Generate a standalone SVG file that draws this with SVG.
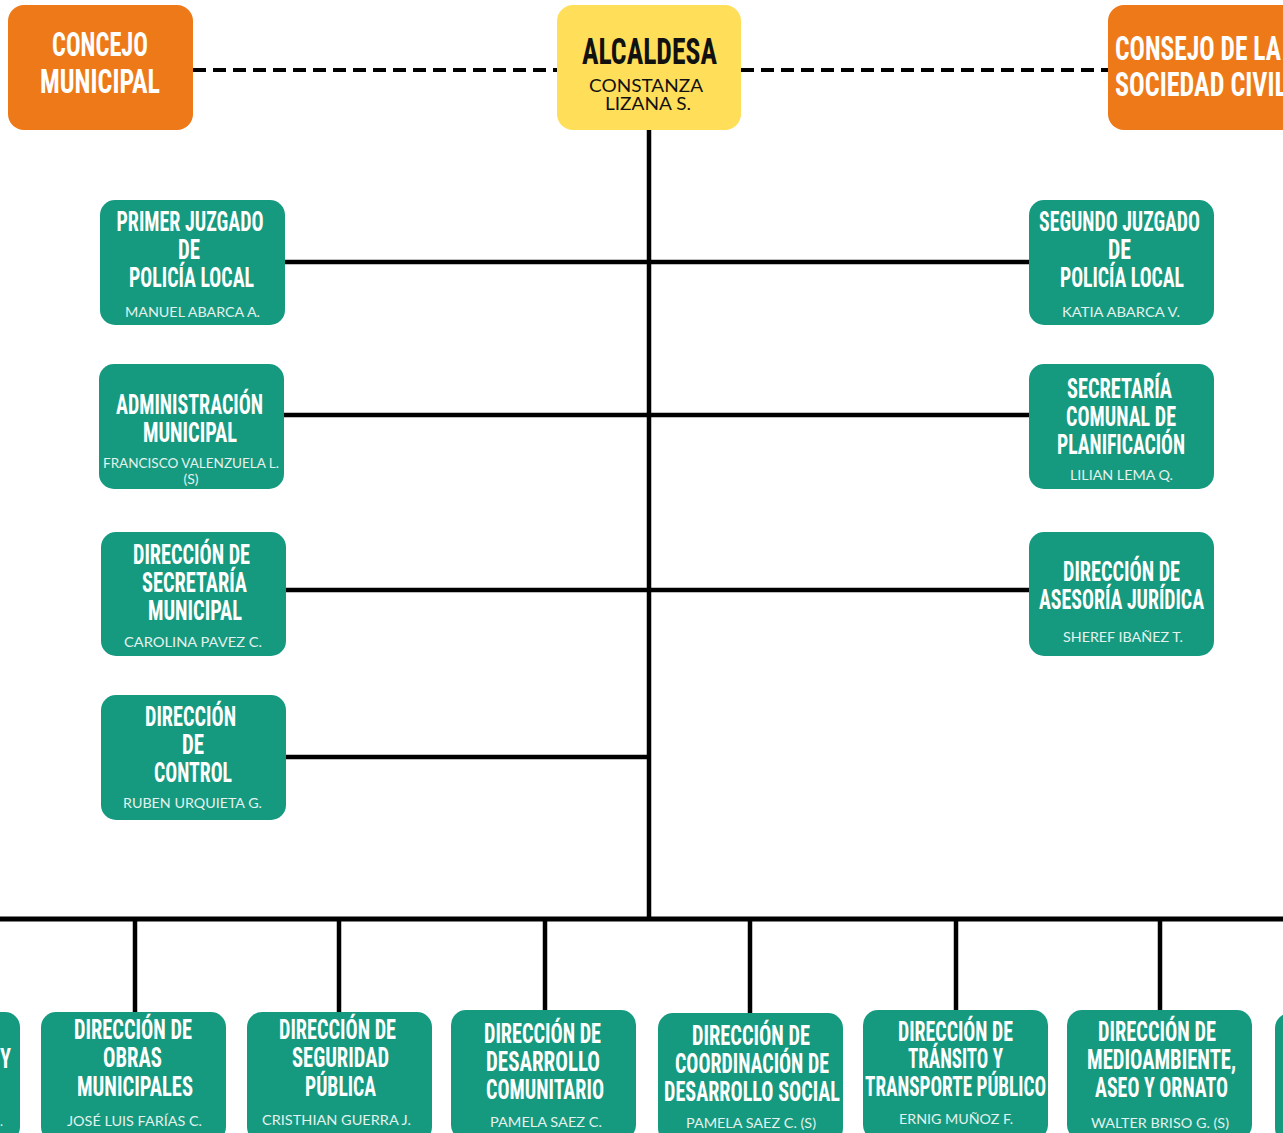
<svg xmlns="http://www.w3.org/2000/svg" width="1283" height="1133" viewBox="0 0 1283 1133">
<style>
.bg{fill:#ffffff}
.box{fill:#159a80}
.org{fill:#ee7918}
.yel{fill:#ffde59}
.t{font-family:"Liberation Sans Narrow","Roboto Condensed","Roboto","Liberation Sans",sans-serif;font-weight:700;font-size:28px;fill:#ffffff;text-anchor:middle}
.th{font-size:34px}
.tk{font-size:36px;fill:#111111}
.n{font-family:Lato,"Open Sans","Liberation Sans",sans-serif;font-size:12.5px;fill:#e4f1ed;text-anchor:middle}
.nk{font-size:17px;fill:#111111}
.ln{stroke:#000000;stroke-width:4.5;fill:none}
.dash{stroke:#000000;stroke-width:4;stroke-dasharray:13 7;fill:none}
</style>
<rect class="bg" x="0" y="0" width="1283" height="1133"/>

<g id="connectors">
  <line class="dash" x1="193" y1="70" x2="557" y2="70"/>
  <line class="dash" x1="741" y1="70" x2="1108" y2="70"/>
  <line class="ln" x1="649" y1="130" x2="649" y2="919"/>
  <line class="ln" x1="285" y1="262" x2="1029" y2="262"/>
  <line class="ln" x1="284" y1="415" x2="1029" y2="415"/>
  <line class="ln" x1="286" y1="590" x2="1029" y2="590"/>
  <line class="ln" x1="286" y1="757" x2="649" y2="757"/>
  <line class="ln" x1="0" y1="919" x2="1283" y2="919" style="stroke-width:5"/>
  <line class="ln" x1="135" y1="919" x2="135" y2="1012"/>
  <line class="ln" x1="339" y1="919" x2="339" y2="1012"/>
  <line class="ln" x1="545" y1="919" x2="545" y2="1010"/>
  <line class="ln" x1="750" y1="919" x2="750" y2="1013"/>
  <line class="ln" x1="956" y1="919" x2="956" y2="1010"/>
  <line class="ln" x1="1160" y1="919" x2="1160" y2="1010"/>
</g>

<g id="concejo">
  <rect class="org" x="8" y="5" width="185" height="125" rx="16"/>
  <text class="t th" x="100" y="56" textLength="96" lengthAdjust="spacingAndGlyphs">CONCEJO</text>
  <text class="t th" x="100" y="93" textLength="120" lengthAdjust="spacingAndGlyphs">MUNICIPAL</text>
</g>

<g id="alcaldesa">
  <rect class="yel" x="557" y="5" width="184" height="125" rx="16"/>
  <text class="t tk" x="649.5" y="64" textLength="135" lengthAdjust="spacingAndGlyphs">ALCALDESA</text>
  <text class="n nk" x="646" y="92" textLength="114" lengthAdjust="spacingAndGlyphs">CONSTANZA</text>
  <text class="n nk" x="648" y="110" textLength="86" lengthAdjust="spacingAndGlyphs">LIZANA S.</text>
</g>

<g id="consejo">
  <rect class="org" x="1108" y="5" width="190" height="125" rx="16"/>
  <text class="t th" x="1115" y="60" style="text-anchor:start" textLength="166" lengthAdjust="spacingAndGlyphs">CONSEJO DE LA</text>
  <text class="t th" x="1115" y="96" style="text-anchor:start" textLength="172" lengthAdjust="spacingAndGlyphs">SOCIEDAD CIVIL</text>
</g>

<g id="juzgado1">
  <rect class="box" x="100" y="200" width="185" height="125" rx="15"/>
  <text class="t" x="190" y="231" textLength="147" lengthAdjust="spacingAndGlyphs">PRIMER JUZGADO</text>
  <text class="t" x="189" y="259" textLength="22" lengthAdjust="spacingAndGlyphs">DE</text>
  <text class="t" x="191.5" y="287" textLength="125" lengthAdjust="spacingAndGlyphs">POLICÍA LOCAL</text>
  <text class="n" x="192.5" y="317" textLength="135" lengthAdjust="spacingAndGlyphs">MANUEL ABARCA A.</text>
</g>

<g id="juzgado2">
  <rect class="box" x="1029" y="200" width="185" height="125" rx="15"/>
  <text class="t" x="1119.5" y="231" textLength="161" lengthAdjust="spacingAndGlyphs">SEGUNDO JUZGADO</text>
  <text class="t" x="1119.5" y="259" textLength="23" lengthAdjust="spacingAndGlyphs">DE</text>
  <text class="t" x="1122" y="287" textLength="124" lengthAdjust="spacingAndGlyphs">POLICÍA LOCAL</text>
  <text class="n" x="1121" y="317" textLength="118" lengthAdjust="spacingAndGlyphs">KATIA ABARCA V.</text>
</g>

<g id="administracion">
  <rect class="box" x="99" y="364" width="185" height="125" rx="15"/>
  <text class="t" x="189.5" y="414" textLength="147" lengthAdjust="spacingAndGlyphs">ADMINISTRACIÓN</text>
  <text class="t" x="190" y="442" textLength="94" lengthAdjust="spacingAndGlyphs">MUNICIPAL</text>
  <text class="n" x="191" y="468" textLength="176" lengthAdjust="spacingAndGlyphs">FRANCISCO VALENZUELA L.</text>
  <text class="n" x="191" y="484" textLength="15" lengthAdjust="spacingAndGlyphs">(S)</text>
</g>

<g id="secretaria-municipal">
  <rect class="box" x="101" y="532" width="185" height="124" rx="15"/>
  <text class="t" x="191.5" y="564" textLength="117" lengthAdjust="spacingAndGlyphs">DIRECCIÓN DE</text>
  <text class="t" x="194.5" y="592" textLength="105" lengthAdjust="spacingAndGlyphs">SECRETARÍA</text>
  <text class="t" x="195" y="620" textLength="94" lengthAdjust="spacingAndGlyphs">MUNICIPAL</text>
  <text class="n" x="193" y="647" textLength="138" lengthAdjust="spacingAndGlyphs">CAROLINA PAVEZ C.</text>
</g>

<g id="control">
  <rect class="box" x="101" y="695" width="185" height="125" rx="15"/>
  <text class="t" x="190.5" y="726" textLength="91" lengthAdjust="spacingAndGlyphs">DIRECCIÓN</text>
  <text class="t" x="193" y="754" textLength="22" lengthAdjust="spacingAndGlyphs">DE</text>
  <text class="t" x="193" y="782" textLength="78" lengthAdjust="spacingAndGlyphs">CONTROL</text>
  <text class="n" x="192.5" y="808" textLength="139" lengthAdjust="spacingAndGlyphs">RUBEN URQUIETA G.</text>
</g>

<g id="secplan">
  <rect class="box" x="1029" y="364" width="185" height="125" rx="15"/>
  <text class="t" x="1119.5" y="398" textLength="105" lengthAdjust="spacingAndGlyphs">SECRETARÍA</text>
  <text class="t" x="1121" y="426" textLength="110" lengthAdjust="spacingAndGlyphs">COMUNAL DE</text>
  <text class="t" x="1121" y="454" textLength="128" lengthAdjust="spacingAndGlyphs">PLANIFICACIÓN</text>
  <text class="n" x="1121.5" y="480" textLength="103" lengthAdjust="spacingAndGlyphs">LILIAN LEMA Q.</text>
</g>

<g id="juridica">
  <rect class="box" x="1029" y="532" width="185" height="124" rx="15"/>
  <text class="t" x="1121.5" y="581" textLength="117" lengthAdjust="spacingAndGlyphs">DIRECCIÓN DE</text>
  <text class="t" x="1121.5" y="609" textLength="165" lengthAdjust="spacingAndGlyphs">ASESORÍA JURÍDICA</text>
  <text class="n" x="1123" y="642" textLength="120" lengthAdjust="spacingAndGlyphs">SHEREF IBAÑEZ T.</text>
</g>

<g id="partial-left">
  <rect class="box" x="-165" y="1012" width="185" height="130" rx="15"/>
  <text class="t" x="11" y="1068" style="text-anchor:end" textLength="11" lengthAdjust="spacingAndGlyphs">Y</text>
  <text class="n" x="0" y="1126" style="text-anchor:start">.</text>
</g>

<g id="obras">
  <rect class="box" x="41" y="1012" width="185" height="130" rx="15"/>
  <text class="t" x="133" y="1039" textLength="118" lengthAdjust="spacingAndGlyphs">DIRECCIÓN DE</text>
  <text class="t" x="132.5" y="1067" textLength="59" lengthAdjust="spacingAndGlyphs">OBRAS</text>
  <text class="t" x="135" y="1096" textLength="116" lengthAdjust="spacingAndGlyphs">MUNICIPALES</text>
  <text class="n" x="134.5" y="1126" textLength="135" lengthAdjust="spacingAndGlyphs">JOSÉ LUIS FARÍAS C.</text>
</g>

<g id="seguridad">
  <rect class="box" x="247" y="1012" width="185" height="130" rx="15"/>
  <text class="t" x="337.5" y="1039" textLength="117" lengthAdjust="spacingAndGlyphs">DIRECCIÓN DE</text>
  <text class="t" x="340.5" y="1067" textLength="97" lengthAdjust="spacingAndGlyphs">SEGURIDAD</text>
  <text class="t" x="340.5" y="1096" textLength="71" lengthAdjust="spacingAndGlyphs">PÚBLICA</text>
  <text class="n" x="336.5" y="1125" textLength="149" lengthAdjust="spacingAndGlyphs">CRISTHIAN GUERRA J.</text>
</g>

<g id="comunitario">
  <rect class="box" x="451" y="1010" width="185" height="130" rx="15"/>
  <text class="t" x="542.5" y="1043" textLength="117" lengthAdjust="spacingAndGlyphs">DIRECCIÓN DE</text>
  <text class="t" x="543" y="1071" textLength="114" lengthAdjust="spacingAndGlyphs">DESARROLLO</text>
  <text class="t" x="545" y="1099" textLength="118" lengthAdjust="spacingAndGlyphs">COMUNITARIO</text>
  <text class="n" x="546" y="1127" textLength="112" lengthAdjust="spacingAndGlyphs">PAMELA SAEZ C.</text>
</g>

<g id="social">
  <rect class="box" x="658" y="1013" width="185" height="130" rx="15"/>
  <text class="t" x="751" y="1045" textLength="118" lengthAdjust="spacingAndGlyphs">DIRECCIÓN DE</text>
  <text class="t" x="752" y="1073" textLength="154" lengthAdjust="spacingAndGlyphs">COORDINACIÓN DE</text>
  <text class="t" x="752" y="1101" textLength="176" lengthAdjust="spacingAndGlyphs">DESARROLLO SOCIAL</text>
  <text class="n" x="751" y="1128" textLength="130" lengthAdjust="spacingAndGlyphs">PAMELA SAEZ C. (S)</text>
</g>

<g id="transito">
  <rect class="box" x="863" y="1010" width="185" height="130" rx="15"/>
  <text class="t" x="955.5" y="1041" textLength="115" lengthAdjust="spacingAndGlyphs">DIRECCIÓN DE</text>
  <text class="t" x="955.5" y="1068" textLength="95" lengthAdjust="spacingAndGlyphs">TRÁNSITO Y</text>
  <text class="t" x="955.5" y="1096" textLength="181" lengthAdjust="spacingAndGlyphs">TRANSPORTE PÚBLICO</text>
  <text class="n" x="956" y="1124" textLength="114" lengthAdjust="spacingAndGlyphs">ERNIG MUÑOZ F.</text>
</g>

<g id="medioambiente">
  <rect class="box" x="1067" y="1010" width="185" height="130" rx="15"/>
  <text class="t" x="1157" y="1041" textLength="118" lengthAdjust="spacingAndGlyphs">DIRECCIÓN DE</text>
  <text class="t" x="1161.5" y="1069" textLength="149" lengthAdjust="spacingAndGlyphs">MEDIOAMBIENTE,</text>
  <text class="t" x="1161.5" y="1097" textLength="133" lengthAdjust="spacingAndGlyphs">ASEO Y ORNATO</text>
  <text class="n" x="1160" y="1128" textLength="138" lengthAdjust="spacingAndGlyphs">WALTER BRISO G. (S)</text>
</g>

<g id="partial-right">
  <rect class="box" x="1275" y="1013" width="185" height="130" rx="15"/>
</g>
</svg>
